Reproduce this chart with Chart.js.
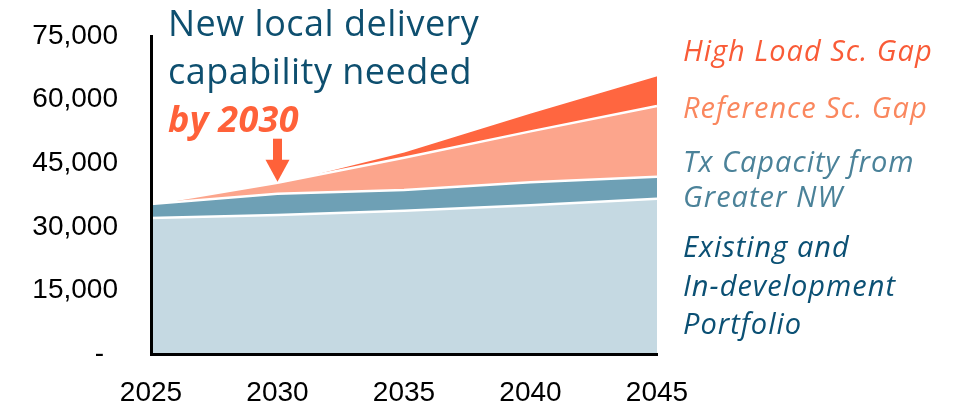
<!DOCTYPE html>
<html>
<head>
<meta charset="utf-8">
<script src="https://cdn.jsdelivr.net/npm/chart.js@4"></script>
<style>
  html, body { margin: 0; padding: 0; background: #fff; }
  #wrap { position: relative; width: 953px; height: 404px; overflow: hidden; }
  #chart { position: absolute; left: 0; top: 0; }
  .note { position: absolute; white-space: nowrap; font-family: "Open Sans", sans-serif; }
  #headline { left: 168px; top: -1px; font-size: 36px; line-height: 48px; letter-spacing: 0.5px; color: #0e4f6f; }
  #headline b { color: #ff6139; font-style: italic; font-weight: 700; letter-spacing: 0.3px; }
  .lbl { left: 683px; font-size: 29px; line-height: 37px; letter-spacing: 1px; font-style: italic; }
</style>
</head>
<body>
<div id="wrap">
  <canvas id="chart" width="953" height="404"></canvas>
  <div id="headline" class="note">New local delivery<br>capability needed<br><b>by 2030</b></div>
  <div class="note lbl" style="top:31px; color:#f95b37;">High Load Sc. Gap</div>
  <div class="note lbl" style="top:88px; color:#fa875e;">Reference Sc. Gap</div>
  <div class="note lbl" style="top:143px; line-height:35px; color:#4b8299;">Tx Capacity from<br>Greater NW</div>
  <div class="note lbl" style="top:227px; line-height:38.5px; color:#0b5074;">Existing and<br>In-development<br>Portfolio</div>
</div>
<script>
const years = ['2025', '2030', '2035', '2040', '2045'];
const existing = [32100, 32800, 33800, 35100, 36600];
const txCapacity = [3300, 5000, 4900, 5400, 5200];
const referenceGap = [0, 2600, 7600, 12000, 16700];
const highLoadGap = [0, 0, 1500, 4500, 7300];
const yTicks = [0, 15000, 30000, 45000, 60000, 75000];

// arrow pointing at the 2030 stack top
const arrowPlugin = {
    id: 'arrow2030',
    afterDatasetsDraw(chart) {
        const ctx = chart.ctx;
        const xs = chart.scales.x;
        const ys = chart.scales.y;
        const i = 1;
        const top = existing[i] + txCapacity[i] + referenceGap[i] + highLoadGap[i];
        const x = xs.getPixelForValue(i);
        const tip = ys.getPixelForValue(top) - 1;
        ctx.save();
        ctx.fillStyle = '#ff6139';
        ctx.fillRect(x - 4.5, tip - 43, 9, 22);
        ctx.beginPath();
        ctx.moveTo(x - 12, tip - 22);
        ctx.lineTo(x + 12, tip - 22);
        ctx.lineTo(x, tip);
        ctx.closePath();
        ctx.fill();
        ctx.restore();
    }
};

function layer(data, color, fill) {
    return {
        data: data,
        backgroundColor: color,
        borderColor: '#ffffff',
        borderWidth: 2.5,
        pointRadius: 0,
        tension: 0,
        fill: fill
    };
}

const ctx = document.getElementById('chart').getContext('2d');
new Chart(ctx, {
    type: 'line',
    data: {
        labels: years,
        datasets: [
            layer(existing, '#c5d9e2', 'origin'),
            layer(txCapacity, '#6ea0b5', '-1'),
            layer(referenceGap, '#fca58c', '-1'),
            layer(highLoadGap, '#ff6640', '-1')
        ]
    },
    options: {
        responsive: false,
        animation: false,
        layout: { padding: { left: 0, right: 296, top: 36, bottom: 0 } },
        plugins: { legend: { display: false }, tooltip: { enabled: false } },
        scales: {
            x: {
                offset: false,
                grid: { display: false, drawTicks: false },
                border: { display: true, color: '#000', width: 3, z: 1 },
                ticks: {
                    color: '#000',
                    padding: 22,
                    maxRotation: 0,
                    font: { family: '"Liberation Sans", Arial', size: 28 }
                },
                afterFit(scale) { scale.height = 50; }
            },
            y: {
                stacked: true,
                min: 0,
                max: 75000,
                grid: { display: false, drawTicks: false },
                border: { display: true, color: '#000', width: 3, z: 1 },
                afterBuildTicks(scale) { scale.ticks = yTicks.map(v => ({ value: v })); },
                ticks: {
                    color: '#000',
                    padding: 33,
                    font: { family: '"Liberation Sans", Arial', size: 28 },
                    callback: v => v === 0 ? '-\u2002' : v.toLocaleString('en-US')
                },
                afterFit(scale) {
                    scale.width = 151;
                    scale.paddingTop = 0;
                    scale.paddingBottom = 0;
                }
            }
        }
    },
    plugins: [arrowPlugin]
});
</script>
</body>
</html>
